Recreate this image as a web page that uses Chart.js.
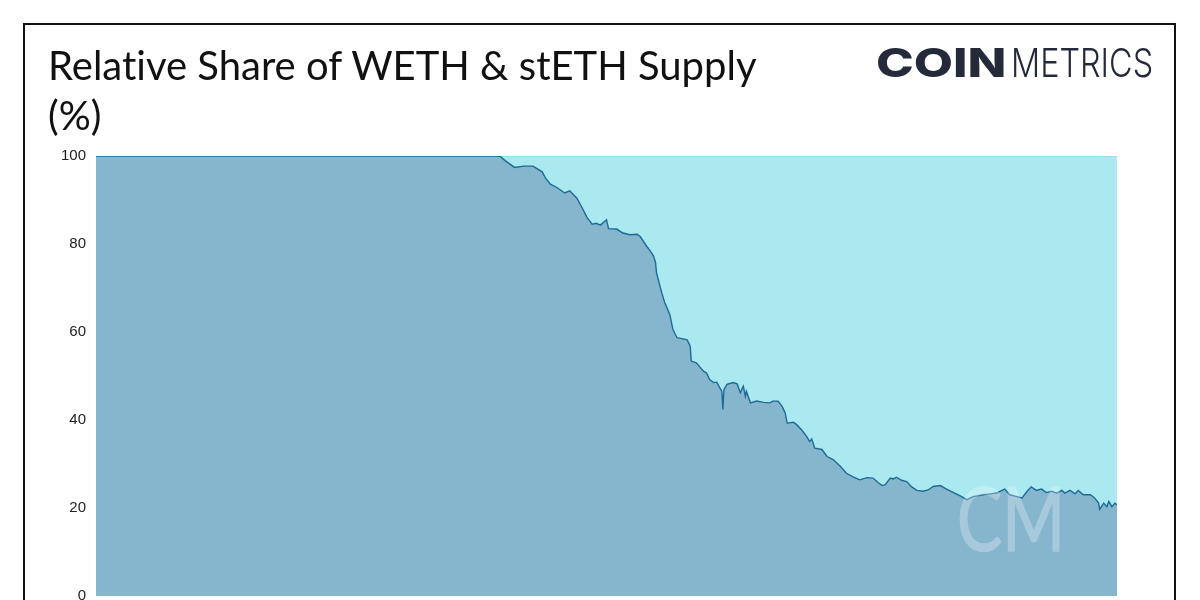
<!DOCTYPE html>
<html>
<head>
<meta charset="utf-8">
<script src="https://cdn.jsdelivr.net/npm/chart.js@4.4.1/dist/chart.umd.min.js"></script>
<style>
  html, body { margin: 0; padding: 0; background: #ffffff; overflow: hidden; }
  #wrap { position: relative; width: 1200px; height: 600px; overflow: hidden; }
  #frame { position: absolute; left: 23px; top: 23px; width: 1153px; height: 700px; border: 2px solid #111; box-sizing: border-box; }
  #title { position: absolute; left: 48px; top: 40px; font-family: Lato, sans-serif; font-size: 40px; line-height: 50px; color: #111; white-space: nowrap; font-variant-ligatures: none; font-feature-settings: "liga" 0; }
  .logo { position: absolute; top: 39px; font-family: Inter, sans-serif; font-size: 40px; line-height: 48px; color: #252a3b; white-space: nowrap; transform-origin: 0 50%; }
  #logo1 { left: 876px; font-weight: 800; transform: scaleX(1.27); }
  #logo2 { left: 1011px; font-weight: 300; transform: scaleX(0.81); }
  #c { position: absolute; left: 0; top: 0; }
</style>
</head>
<body>
<div id="wrap">
  <div id="frame"></div>
  <canvas id="c" width="1200" height="615"></canvas>
  <div id="title">Relative Share of WETH &amp; stETH Supply<br>(%)</div>
  <div class="logo" id="logo1">COIN</div>
  <div class="logo" id="logo2">METRICS</div>
</div>
<script>
// Day index since series start (x) and WETH share of combined WETH + stETH supply (%)
const dayIndex = [0, 393, 396, 401, 410, 419, 428, 437, 440, 445, 451, 456, 459, 464, 471, 476, 481, 486, 490, 494, 500, 502, 510, 516, 523, 530, 533, 539, 543, 546, 548, 549, 554, 557, 562, 565, 569, 574, 579, 582, 583, 588, 592, 595, 598, 601, 605, 608, 611, 613, 614, 615, 618, 624, 628, 631, 634, 636, 637, 641, 647, 654, 660, 663, 668, 672, 675, 677, 683, 686, 691, 696, 699, 701, 704, 711, 716, 722, 729, 735, 742, 748, 755, 761, 766, 770, 773, 778, 781, 784, 789, 794, 799, 804, 810, 815, 820, 827, 833, 840, 846, 853, 859, 869, 876, 882, 890, 895, 902, 907, 912, 916, 921, 926, 931, 936, 941, 946, 949, 954, 959, 962, 967, 974, 978, 982, 983, 987, 990, 992, 995, 998, 1000];
const wethShare = [100, 100, 99.9, 98.9, 97.4, 97.7, 97.7, 96.4, 95.1, 93.6, 92.9, 92.1, 91.6, 92.1, 90.4, 88.3, 86.0, 84.5, 84.7, 84.3, 85.5, 83.5, 83.4, 82.5, 82.1, 82.2, 81.7, 79.6, 78.4, 77.3, 75.8, 73.5, 69.0, 66.7, 64.0, 60.6, 58.7, 58.5, 58.2, 56.8, 53.4, 53.0, 51.9, 51.1, 50.7, 49.2, 48.5, 48.6, 47.3, 46.5, 42.4, 46.9, 48.1, 48.5, 48.2, 46.2, 47.7, 45.4, 46.5, 43.9, 44.3, 44.0, 43.9, 44.3, 44.3, 43.1, 41.6, 39.3, 39.5, 39.0, 37.8, 36.3, 35.1, 35.7, 33.6, 33.3, 31.7, 31.0, 29.5, 27.9, 27.0, 26.4, 26.9, 26.8, 25.8, 25.1, 25.3, 26.8, 26.6, 27.0, 26.3, 26.0, 24.8, 24.0, 23.8, 24.1, 24.9, 25.1, 24.3, 23.5, 22.8, 21.9, 22.6, 23.0, 23.2, 23.4, 24.3, 23.0, 22.6, 22.3, 23.8, 24.8, 24.0, 24.3, 23.5, 23.8, 23.4, 24.0, 23.4, 24.0, 23.2, 24.0, 23.0, 23.0, 22.3, 21.1, 19.7, 21.1, 20.3, 21.5, 20.3, 21.1, 20.7];
const yTicks = [0, 20, 40, 60, 80, 100];

const wethPoints = dayIndex.map((d, i) => ({ x: d, y: wethShare[i] }));
const stethPoints = dayIndex.map((d, i) => ({ x: d, y: 100 - wethShare[i] }));

const watermark = {
  id: 'watermark',
  afterDatasetsDraw(chart) {
    const { ctx, chartArea } = chart;
    const off = document.createElement('canvas');
    off.width = 200; off.height = 120;
    const o = off.getContext('2d');
    o.font = '400 90px Lato, sans-serif';
    const w = o.measureText('CM').width;
    const targetW = 108;
    o.translate(10, 95);
    o.scale(targetW / w, 1);
    o.fillStyle = '#ffffff';
    o.strokeStyle = '#ffffff';
    o.lineJoin = 'round';
    o.lineWidth = 1.5;
    o.textBaseline = 'alphabetic';
    o.strokeText('CM', 0, 0);
    o.fillText('CM', 0, 0);
    ctx.save();
    ctx.globalAlpha = 0.27;
    ctx.drawImage(off, chartArea.right - 52 - targetW - 10, chartArea.bottom - 45 - 95);
    ctx.restore();
  }
};

new Chart(document.getElementById('c'), {
  type: 'line',
  data: {
    datasets: [
      {
        label: 'WETH',
        data: wethPoints,
        stack: 's',
        fill: 'origin',
        backgroundColor: '#86b6ce',
        borderColor: '#1d6a96',
        borderWidth: 1.4,
        pointRadius: 0,
        tension: 0
      },
      {
        label: 'stETH',
        data: stethPoints,
        stack: 's',
        fill: '-1',
        backgroundColor: '#a9e9ef',
        borderColor: '#94dbe5',
        borderWidth: 1.5,
        pointRadius: 0,
        tension: 0
      }
    ]
  },
  options: {
    responsive: false,
    animation: false,
    events: [],
    layout: { padding: { left: 0, right: 83, top: 156, bottom: 5 } },
    plugins: { legend: { display: false }, tooltip: { enabled: false } },
    scales: {
      x: {
        type: 'linear',
        min: 0,
        max: 1000,
        display: false
      },
      y: {
        stacked: true,
        min: 0,
        max: 100,
        z: 1,
        afterFit(scale) { scale.width = 96; },
        afterBuildTicks(scale) { scale.ticks = yTicks.map(v => ({ value: v })); },
        border: { display: false },
        grid: { color: 'rgba(255,255,255,0.28)', lineWidth: 1, drawTicks: false },
        ticks: {
          padding: 10,
          color: '#222',
          font: { family: 'Liberation Sans, Arial, sans-serif', size: 15 }
        }
      }
    }
  },
  plugins: [watermark]
});
</script>
</body>
</html>
